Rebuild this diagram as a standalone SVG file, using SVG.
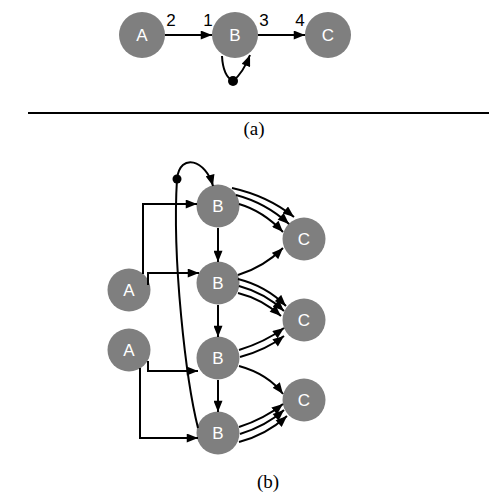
<svg xmlns="http://www.w3.org/2000/svg" width="504" height="501" viewBox="0 0 504 501">
<defs>
<style>
.n{fill:#7f7f7f}
.t{fill:#fff;font-family:"Liberation Sans",Arial,sans-serif;font-size:17px;text-anchor:middle}
.l{fill:#000;font-family:"Liberation Sans",Arial,sans-serif;font-size:17px;text-anchor:middle}
.cap{fill:#000;font-family:"Liberation Serif","Times New Roman",serif;font-size:19px;text-anchor:middle}
.e{fill:none;stroke:#000;stroke-width:2;marker-end:url(#ah)}
.p{fill:none;stroke:#000;stroke-width:2}
</style>
<marker id="ah" viewBox="0 0 10 8" refX="10" refY="4" markerWidth="12" markerHeight="9" markerUnits="userSpaceOnUse" orient="auto">
<path d="M0,0 L10,4 L0,8 Z" fill="#000"/>
</marker>
</defs>
<rect width="504" height="501" fill="#fff"/>

<g id="top-A"><circle class="n" cx="142" cy="35" r="23"/><text class="t" x="142" y="41">A</text></g>
<g id="top-B"><circle class="n" cx="235" cy="35" r="23"/><text class="t" x="235" y="41">B</text></g>
<g id="top-C"><circle class="n" cx="328" cy="35" r="23"/><text class="t" x="328" y="41">C</text></g>

<g id="B1"><circle class="n" cx="218" cy="206" r="21.5"/><text class="t" x="218" y="212">B</text></g>
<g id="B2"><circle class="n" cx="218" cy="283" r="21.5"/><text class="t" x="218" y="289">B</text></g>
<g id="B3"><circle class="n" cx="218" cy="358" r="21.5"/><text class="t" x="218" y="364">B</text></g>
<g id="B4"><circle class="n" cx="218" cy="433" r="21.5"/><text class="t" x="218" y="439">B</text></g>
<g id="C1"><circle class="n" cx="304" cy="239" r="21.5"/><text class="t" x="304" y="245">C</text></g>
<g id="C2"><circle class="n" cx="304" cy="320" r="21.5"/><text class="t" x="304" y="326">C</text></g>
<g id="C3"><circle class="n" cx="304" cy="400" r="21.5"/><text class="t" x="304" y="406">C</text></g>
<g id="A1"><circle class="n" cx="129" cy="290" r="21.5"/><text class="t" x="129" y="296">A</text></g>
<g id="A2"><circle class="n" cx="129" cy="350" r="21.5"/><text class="t" x="129" y="356">A</text></g>

<g id="connectors">
<path class="e" d="M165,35 H212"/>
<path class="e" d="M258,35 H305"/>
<path class="p" d="M222,56 Q223,76 233,81"/>
<path class="e" d="M233,81 Q243,73 250,55"/>
<circle cx="233" cy="81" r="5" fill="#000"/>

<path class="e" d="M143,274 V204 H197"/>
<path class="e" d="M148,285 V273 H199"/>
<path class="e" d="M148,361 V371 H198"/>
<path class="e" d="M140,368 V438 H198"/>

<path class="p" d="M198,428 C186,380 172,260 177,179"/>
<path class="e" d="M177,179 C180,152 206,160 213,186"/>
<circle cx="177" cy="179" r="4.5" fill="#000"/>

<path class="e" d="M218,228 V262"/>
<path class="e" d="M218,305 V337"/>
<path class="e" d="M218,380 V412"/>

<path class="e" d="M232,188 Q268,196 294,217"/>
<path class="e" d="M236,195 Q266,203 289,224"/>
<path class="e" d="M239,204 Q263,211 283,232"/>
<path class="e" d="M238,275 Q264,267 283,248"/>

<path class="e" d="M238,279 Q266,286 286,306"/>
<path class="e" d="M239,286 Q265,293 284,311"/>
<path class="e" d="M238,293 Q262,299 281,316"/>
<path class="e" d="M239,350 Q265,342 284,328"/>
<path class="e" d="M240,357 Q266,350 284,336"/>
<path class="e" d="M239,366 Q268,374 283,394"/>

<path class="e" d="M239,427 Q264,419 283,404"/>
<path class="e" d="M240,434 Q266,426 284,410"/>
<path class="e" d="M239,442 Q266,435 287,416"/>
</g>

<text class="l" x="171" y="26">2</text>
<text class="l" x="208" y="26">1</text>
<text class="l" x="264" y="26">3</text>
<text class="l" x="300" y="26">4</text>

<line x1="28" y1="113" x2="489" y2="113" stroke="#000" stroke-width="2.2"/>
<text class="cap" x="254" y="135">(a)</text>
<text class="cap" x="268" y="488">(b)</text>
</svg>
